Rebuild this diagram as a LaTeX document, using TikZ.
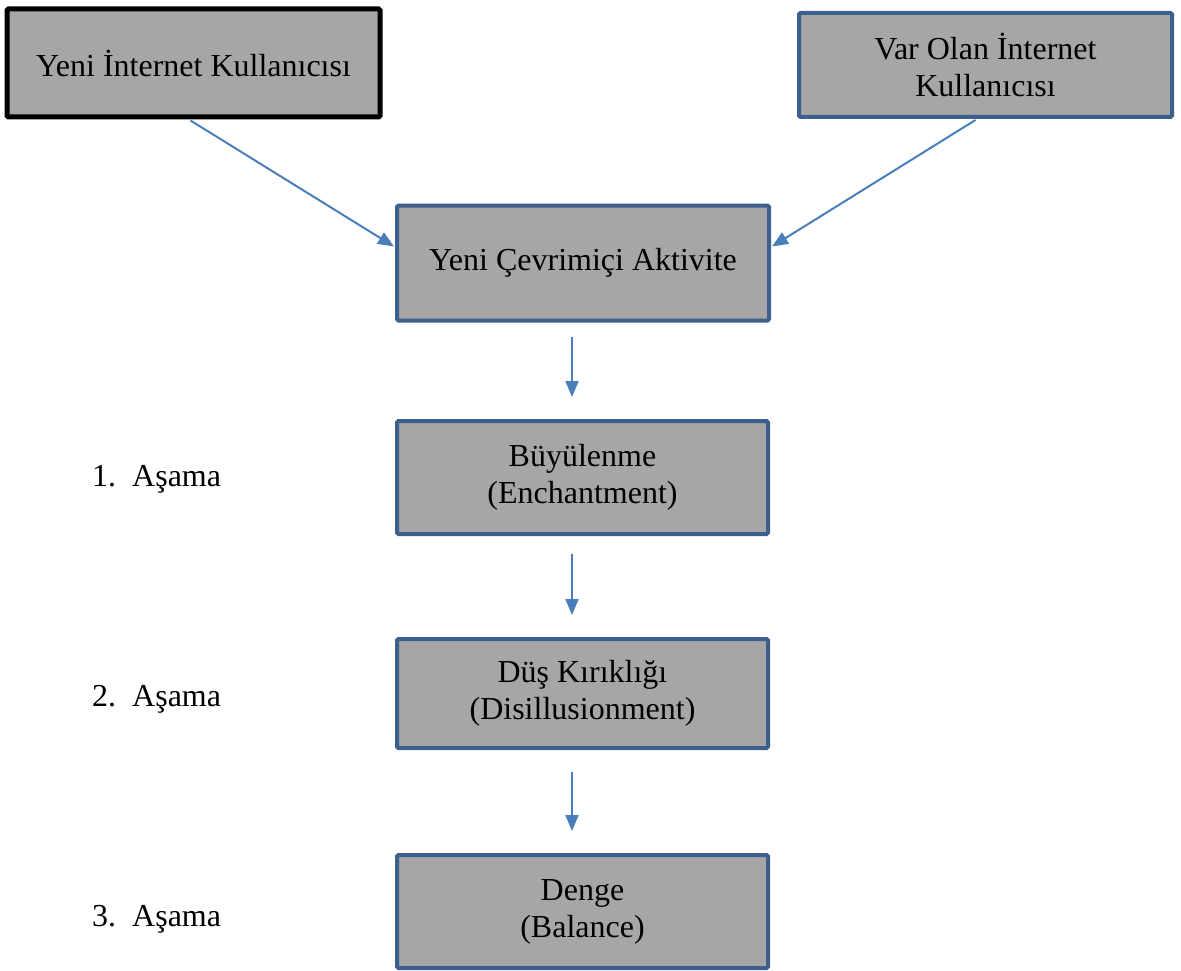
\documentclass[tikz,border=0pt]{standalone}
\usepackage{fontspec}
\setmainfont{Liberation Serif}
\usetikzlibrary{arrows.meta}
\definecolor{boxfill}{HTML}{A6A6A6}
\definecolor{boxedge}{HTML}{3C5F8E}
\definecolor{arrowc}{HTML}{4A7EBB}
\newcommand{\twolines}[3]{\raisebox{#1}{\begin{tabular}{@{}c@{}}#2\\#3\end{tabular}}}
\begin{document}
\begin{tikzpicture}[x=1pt,y=-1pt,
  box/.style={draw=boxedge, line width=4pt, fill=boxfill, rounded corners=1.5pt,
    align=center, inner sep=0pt, font=\fontsize{32}{37}\selectfont},
  lbl/.style={anchor=base west, inner sep=0pt, font=\fontsize{32}{37}\selectfont},
  arr/.style={draw=arrowc, line width=2pt, -{Triangle[length=16pt,width=13pt]}}]
\useasboundingbox (0,0) rectangle (1181,971);
\node[box, draw=black, line width=5pt, minimum width=373pt, minimum height=108pt] (b1) at (193.5,63) {Yeni İnternet Kullanıcısı};
\node[box, minimum width=373pt, minimum height=104pt] (b2) at (985.5,65) {Var Olan İnternet\\Kullanıcısı};
\node[box, minimum width=372pt, minimum height=115pt] (b3) at (583,263) {Yeni Çevrimiçi Aktivite};
\node[box, minimum width=371pt, minimum height=113pt] (b4) at (582.5,477.5) {\twolines{-3pt}{Büyülenme}{(Enchantment)}};
\node[box, minimum width=371pt, minimum height=109pt] (b5) at (582.5,693.5) {\twolines{-2pt}{Düş Kırıklığı}{(Disillusionment)}};
\node[box, minimum width=371pt, minimum height=113pt] (b6) at (582.5,911.5) {\twolines{-2pt}{Denge}{(Balance)}};
\node[lbl] (l1) at (92,486) {1.\hspace{0.5em}Aşama};
\node[lbl] (l2) at (92,706) {2.\hspace{0.5em}Aşama};
\node[lbl] (l3) at (92,926) {3.\hspace{0.5em}Aşama};
\draw[arr] ([xshift=-3pt,yshift=-1pt]b1.south) -- ([yshift=16.5pt,xshift=-1pt]b3.west);
\draw[arr] ([xshift=-10pt,yshift=-1pt]b2.south) -- ([yshift=16.5pt,xshift=1pt]b3.east);
\draw[arr, shorten <=14pt, shorten >=22pt] ([xshift=-11pt]b3.south) -- ([xshift=-10.5pt]b4.north);
\draw[arr, shorten <=18pt, shorten >=22pt] ([xshift=-10.5pt]b4.south) -- ([xshift=-10.5pt]b5.north);
\draw[arr, shorten <=22pt, shorten >=22pt] ([xshift=-10.5pt]b5.south) -- ([xshift=-10.5pt]b6.north);
\end{tikzpicture}
\end{document}
